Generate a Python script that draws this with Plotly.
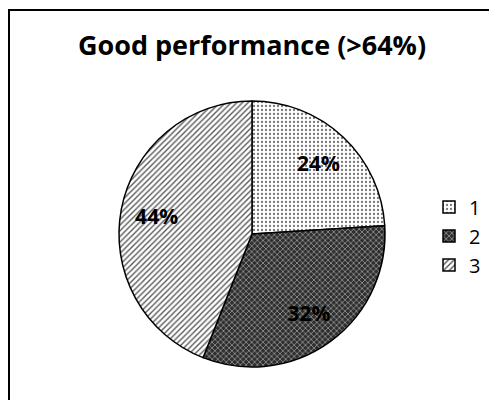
import plotly.graph_objects as go

labels = ["1", "2", "3"]
values = [24, 32, 44]
title_text = "Good performance (>64%)"

W, H = 489, 400
cx, cy, r = 252, 234, 133
dom = dict(x=[(cx - r) / W, (cx + r) / W], y=[(H - cy - r) / H, (H - cy + r) / H])

fig = go.Figure()

# filled slices
fig.add_trace(go.Pie(
    labels=labels,
    values=values,
    sort=False,
    direction="clockwise",
    rotation=0,
    textinfo="none",
    hoverinfo="label+percent",
    marker=dict(
        colors=["white", "#2e2e2e", "white"],
        line=dict(color="black", width=1.5),
        pattern=dict(
            shape=[".", "x", "/"],
            fgcolor=["#777777", "#8c8c8c", "#5a5a5a"],
            bgcolor=["white", "#2e2e2e", "white"],
            size=[4, 4, 4],
            solidity=[0.25, 0.4, 0.35],
        ),
    ),
    domain=dom,
))

# percentage labels (same data, transparent ring so labels sit further out)
fig.add_trace(go.Pie(
    labels=labels,
    values=values,
    sort=False,
    direction="clockwise",
    rotation=0,
    hole=0.46,
    texttemplate="%{percent:.0%}",
    textposition="inside",
    insidetextorientation="horizontal",
    textfont=dict(family="Open Sans", size=21, color="black", weight="bold"),
    hoverinfo="skip",
    showlegend=False,
    marker=dict(colors=["rgba(0,0,0,0)"] * 3, line=dict(width=0)),
    domain=dom,
))

fig.update_layout(
    width=W, height=H,
    margin=dict(l=0, r=0, t=0, b=0),
    paper_bgcolor="white",
    plot_bgcolor="white",
    title=dict(
        text=title_text,
        x=252 / W, y=1 - 46 / H, xanchor="center", yanchor="middle",
        font=dict(family="Open Sans", size=27, color="black", weight="bold"),
    ),
    legend=dict(
        x=429 / W, y=1 - 236 / H, xanchor="left", yanchor="middle",
        font=dict(family="Open Sans", size=20, color="black"),
        bgcolor="rgba(0,0,0,0)",
    ),
    shapes=[dict(
        type="rect", xref="paper", yref="paper",
        x0=9 / W, y0=-0.1, x1=1.1, y1=1 - 10 / H,
        line=dict(color="black", width=2),
    )],
)

fig.write_html(
    "out.html",
    config={"displayModeBar": False},
    post_script="document.body.style.margin='0px';",
)
